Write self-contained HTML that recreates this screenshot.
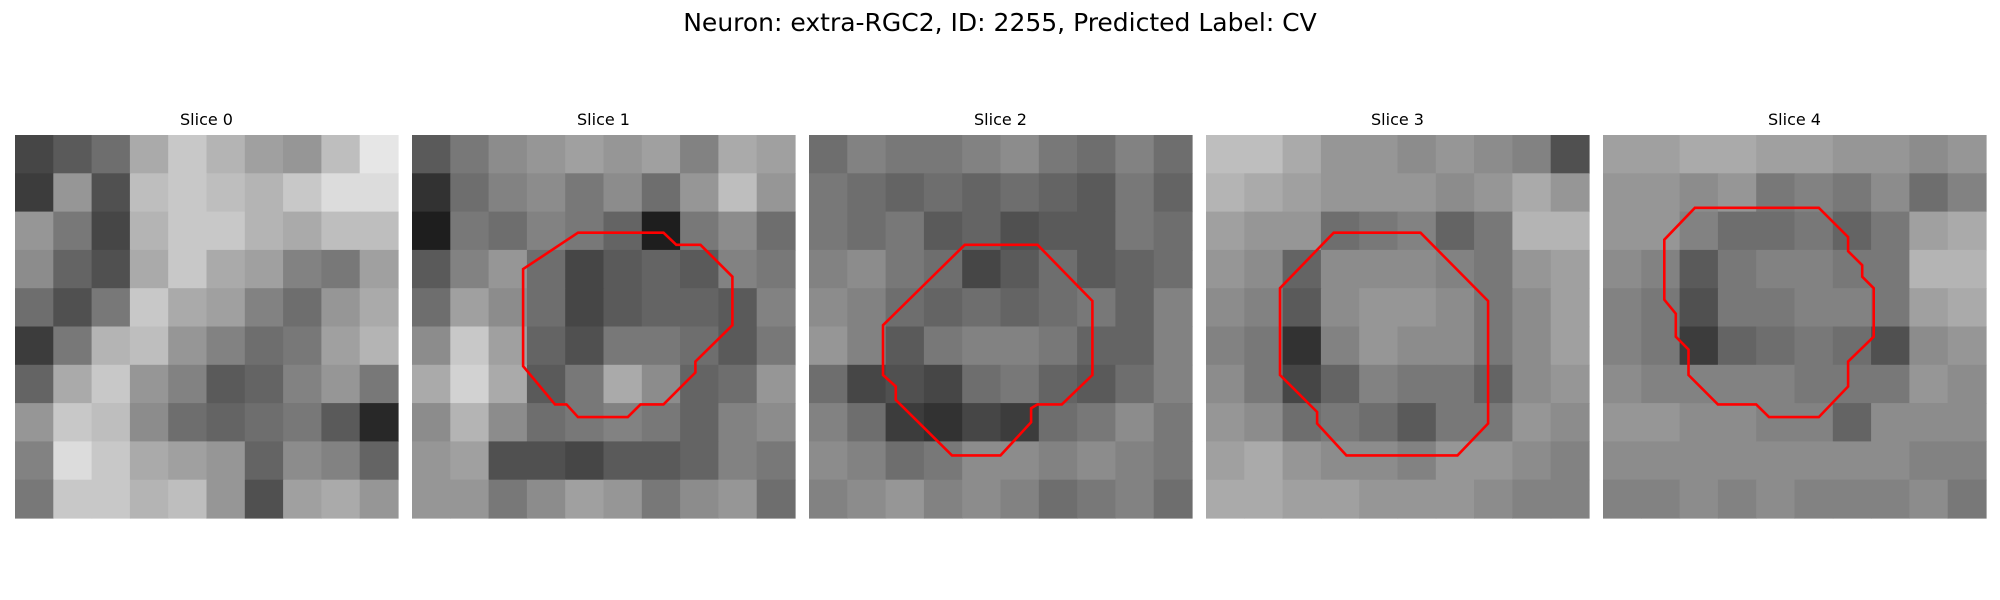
<!DOCTYPE html>
<html><head><meta charset="utf-8"><style>
html,body{margin:0;padding:0;background:#fff;width:2000px;height:600px;overflow:hidden}
svg{display:block;font-family:"DejaVu Sans","Liberation Sans",sans-serif}
</style></head><body>
<svg id="fig" width="2000" height="600" viewBox="0 0 2000 600">
<text x="1000" y="31" font-size="25" text-anchor="middle" fill="#000">Neuron: extra-RGC2, ID: 2255, Predicted Label: CV</text>
</svg>
<script>
const sliceTitles=["Slice 0","Slice 1","Slice 2","Slice 3","Slice 4"];
const panelX=[15,412,809,1206,1603];
const slice0=[[70,90,110,170,200,180,160,150,190,230],[60,150,80,190,200,190,180,200,220,220],[150,120,70,180,200,200,180,170,190,190],[140,100,80,170,200,170,160,130,120,160],[110,80,120,200,170,160,130,110,150,170],[60,120,180,190,150,130,110,120,160,180],[100,170,200,150,130,90,100,130,150,120],[150,200,190,140,110,100,110,120,90,40],[130,220,200,170,160,150,100,140,130,100],[120,200,200,180,190,150,80,160,170,150]];
const slice1=[[90,120,140,150,160,150,160,130,170,160],[50,110,130,140,120,140,110,150,190,150],[30,120,110,130,120,100,30,120,140,110],[90,130,150,110,70,90,100,90,130,120],[110,160,140,110,70,90,100,100,90,130],[140,200,160,100,80,120,120,110,90,120],[170,210,170,90,120,170,140,100,110,150],[140,180,140,110,120,130,120,100,130,140],[150,160,80,80,70,90,90,100,130,120],[150,150,120,140,160,150,120,140,150,110]];
const slice2=[[110,130,120,120,130,140,120,110,130,110],[120,110,100,110,100,110,100,90,120,100],[120,110,120,90,100,80,90,90,120,110],[130,140,120,110,70,90,110,90,100,110],[140,130,110,100,110,100,110,120,100,130],[150,130,90,120,130,130,120,100,100,130],[110,70,80,70,110,120,100,90,110,130],[130,110,60,50,70,60,110,120,140,120],[140,130,110,120,140,140,130,140,130,120],[130,140,150,130,140,130,110,120,130,110]];
const slice3=[[190,190,170,150,150,140,150,140,130,80],[180,170,160,150,150,150,140,150,170,150],[160,150,150,110,120,130,100,120,180,180],[150,140,100,140,140,140,130,120,150,160],[140,130,90,140,150,150,140,120,140,160],[130,120,50,130,150,140,140,120,140,160],[140,120,70,100,130,120,120,100,140,150],[150,140,110,120,110,90,120,120,150,140],[160,170,150,140,140,130,150,150,140,130],[170,170,160,160,150,150,150,140,130,130]];
const slice4=[[160,160,170,170,160,160,150,150,140,150],[150,150,140,150,120,130,120,140,110,130],[150,150,130,110,110,120,100,120,160,170],[140,130,90,120,130,130,120,120,180,180],[130,120,80,120,120,130,130,120,160,170],[130,120,60,100,110,120,110,80,140,150],[140,130,130,130,130,120,120,120,150,140],[150,150,140,140,130,130,100,140,140,140],[140,140,140,140,140,140,140,140,130,130],[130,130,140,130,140,130,130,130,140,120]];
const contour1=[[13,7.65],[19.7,7.65],[20.7,8.6],[22.6,8.6],[25.1,11.1],[25.1,14.9],[22.2,17.75],[22.2,18.6],[19.7,21.1],[17.9,21.1],[16.9,22.1],[13,22.1],[12.1,21.1],[11.2,21.1],[8.7,18.1],[8.7,10.5]];
const contour2=[[12.2,8.6],[17.9,8.6],[22.2,13],[22.2,18.8],[19.8,21.1],[17.9,21.1],[17.4,21.4],[17.4,22.5],[15,25.1],[11.2,25.1],[6.8,20.75],[6.8,19.7],[5.8,18.8],[5.8,14.9]];
const contour3=[[10,7.65],[16.8,7.65],[22.1,13],[22.1,22.6],[19.7,25.1],[11,25.1],[8.7,22.6],[8.7,21.7],[5.8,18.8],[5.8,12]];
const contour4=[[7.2,5.7],[16.9,5.7],[19.2,8],[19.2,9.1],[20.3,10.2],[20.3,11.1],[21.2,12],[21.2,15.8],[19.2,17.75],[19.2,19.7],[16.9,22.1],[13,22.1],[12,21.1],[9,21.1],[6.7,18.8],[6.7,16.8],[5.7,15.8],[5.7,14],[4.8,12.9],[4.8,8.2]];
const slices=[slice0,slice1,slice2,slice3,slice4];
const contours=[null,contour1,contour2,contour3,contour4];
const NS="http://www.w3.org/2000/svg";
const svg=document.getElementById('fig');
const panelTop=135, panelSize=383;
function px(i,g){return panelX[i]+g*panelSize/30;}
function py(g){return panelTop+g*panelSize/30;}
slices.forEach((data,i)=>{
  const g=document.createElementNS(NS,'g');
  
  
  svg.appendChild(g);
  const t=document.createElementNS(NS,'text');
  
  
  t.setAttribute('x',panelX[i]+panelSize/2);t.setAttribute('y',125);
  t.setAttribute('font-size','16');t.setAttribute('text-anchor','middle');
  t.textContent=sliceTitles[i];g.appendChild(t);
  const n=data.length,cs=panelSize/n;
  data.forEach((row,r)=>row.forEach((v,c)=>{
    const rc=document.createElementNS(NS,'rect');
    
    
    rc.setAttribute('x',(panelX[i]+c*cs).toFixed(2));rc.setAttribute('y',(panelTop+r*cs).toFixed(2));
    rc.setAttribute('width',(cs+0.6).toFixed(2));rc.setAttribute('height',(cs+0.6).toFixed(2));
    rc.setAttribute('fill','rgb('+v+','+v+','+v+')');
    g.appendChild(rc);
  }));
  if(contours[i]){
    const p=document.createElementNS(NS,'polygon');
    
    
    p.setAttribute('points',contours[i].map(q=>px(i,q[0]).toFixed(1)+','+py(q[1]).toFixed(1)).join(' '));
    p.setAttribute('fill','none');p.setAttribute('stroke','#ff0000');p.setAttribute('stroke-width','2.6');
    g.appendChild(p);
  }
});
</script>
</body></html>
